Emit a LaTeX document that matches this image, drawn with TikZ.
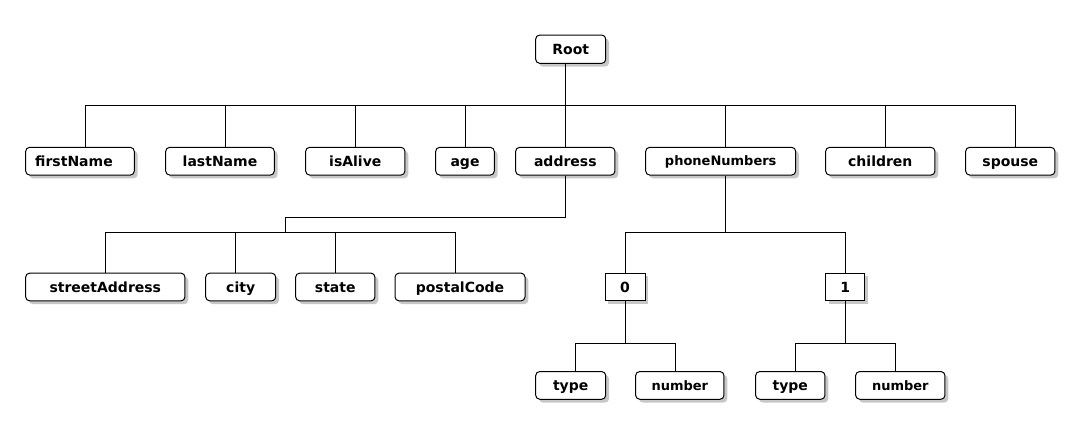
\documentclass[tikz,border=0pt]{standalone}
\usepackage{fontspec}
\setmainfont{DejaVu Sans}
\usetikzlibrary{shadows}
\begin{document}
\begin{tikzpicture}[x=0.75pt,y=-0.75pt,
  every node/.style={inner sep=0pt},
  bw/.style={minimum width=#1*0.75pt},
  wbs/.style={draw=black, line width=0.75pt, fill=white, rounded corners=3pt,
    minimum height=27.7*0.75pt, text height=7.7pt, text depth=0pt,
    font=\bfseries\fontsize{10.5}{12}\selectfont,
    drop shadow={shadow xshift=2.5pt, shadow yshift=-2.5pt, fill=black, opacity=0.22}},
  sq/.style={wbs, rounded corners=0pt},
  small/.style={font=\bfseries\fontsize{9.75}{11}\selectfont, text height=7.1pt},
  conn/.style={draw=black, line width=0.75pt}
]
\fill[white] (0,0) rectangle (1080,434);
\useasboundingbox (0,0) rectangle (1080,434);

% nodes
\node[wbs,bw=70, minimum height=28.3*0.75pt] (root) at (570.7,49.2) {Root};

\node[wbs,bw=108.6] (firstName) at (80,161.2) {firstName\kern9pt};
\node[wbs,bw=108.6] (lastName) at (220,161.2) {lastName};
\node[wbs,bw=99.3] (isAlive) at (355.3,161.2) {isAlive};
\node[wbs,bw=58.6] (age) at (465,161.2) {age};
\node[wbs,bw=99.3] (address) at (565.3,161.2) {address};
\node[wbs,small,bw=150] (phoneNumbers) at (720.7,161.2) {phoneNumbers};
\node[wbs,bw=109.3] (children) at (880.3,161.2) {children};
\node[wbs,bw=89.3] (spouse) at (1010.3,161.2) {spouse};

\node[wbs,bw=159.3] (streetAddress) at (105.3,287) {streetAddress};
\node[wbs,bw=70] (city) at (240.7,287) {city};
\node[wbs,bw=79.3] (state) at (335.3,287) {state};
\node[wbs,bw=130] (postalCode) at (460,287) {postalCode};

\node[sq,bw=40] (n0) at (625,287) {0};
\node[sq,bw=39.3] (n1) at (845.3,287) {1};

\node[wbs,bw=70] (type0) at (570.7,385.4) {type};
\node[wbs,small,bw=88.3] (number0) at (679.8,385.4) {number};
\node[wbs,bw=69.3] (type1) at (790.3,385.4) {type};
\node[wbs,small,bw=89.3] (number1) at (900.3,385.4) {number};

% connectors: root -> level 1
\foreach \c/\s in {firstName/5.7, lastName/5.7, isAlive/0.4, age/0.3, address/0.4, phoneNumbers/5, children/5.4, spouse/5}{
  \draw[conn] ([shift={(-5,0)}]root.south) -- ++(0,41.7) -| ([shift={(\s,0)}]\c.north);
}

% address -> level 2
\foreach \c/\s in {streetAddress/0.4, city/-5, state/-0.3, postalCode/-5}{
  \draw[conn] (address.south) -- ++(0,42.3) -- ++(-280,0) -- ++(0,14.4) -| ([shift={(\s,0)}]\c.north);
}

% phoneNumbers -> 0, 1
\foreach \c/\s in {n0/0.7, n1/0.4}{
  \draw[conn] ([shift={(5,0)}]phoneNumbers.south) -- ++(0,56.7) -| ([shift={(\s,0)}]\c.north);
}

% 0 -> type, number
\foreach \c/\s in {type0/4.3, number0/-4.1}{
  \draw[conn] ([shift={(0.7,0)}]n0.south) -- ++(0,42.3) -| ([shift={(\s,0)}]\c.north);
}
% 1 -> type, number
\foreach \c/\s in {type1/5.4, number1/-4.6}{
  \draw[conn] ([shift={(0.4,0)}]n1.south) -- ++(0,42.3) -| ([shift={(\s,0)}]\c.north);
}
\end{tikzpicture}
\end{document}
